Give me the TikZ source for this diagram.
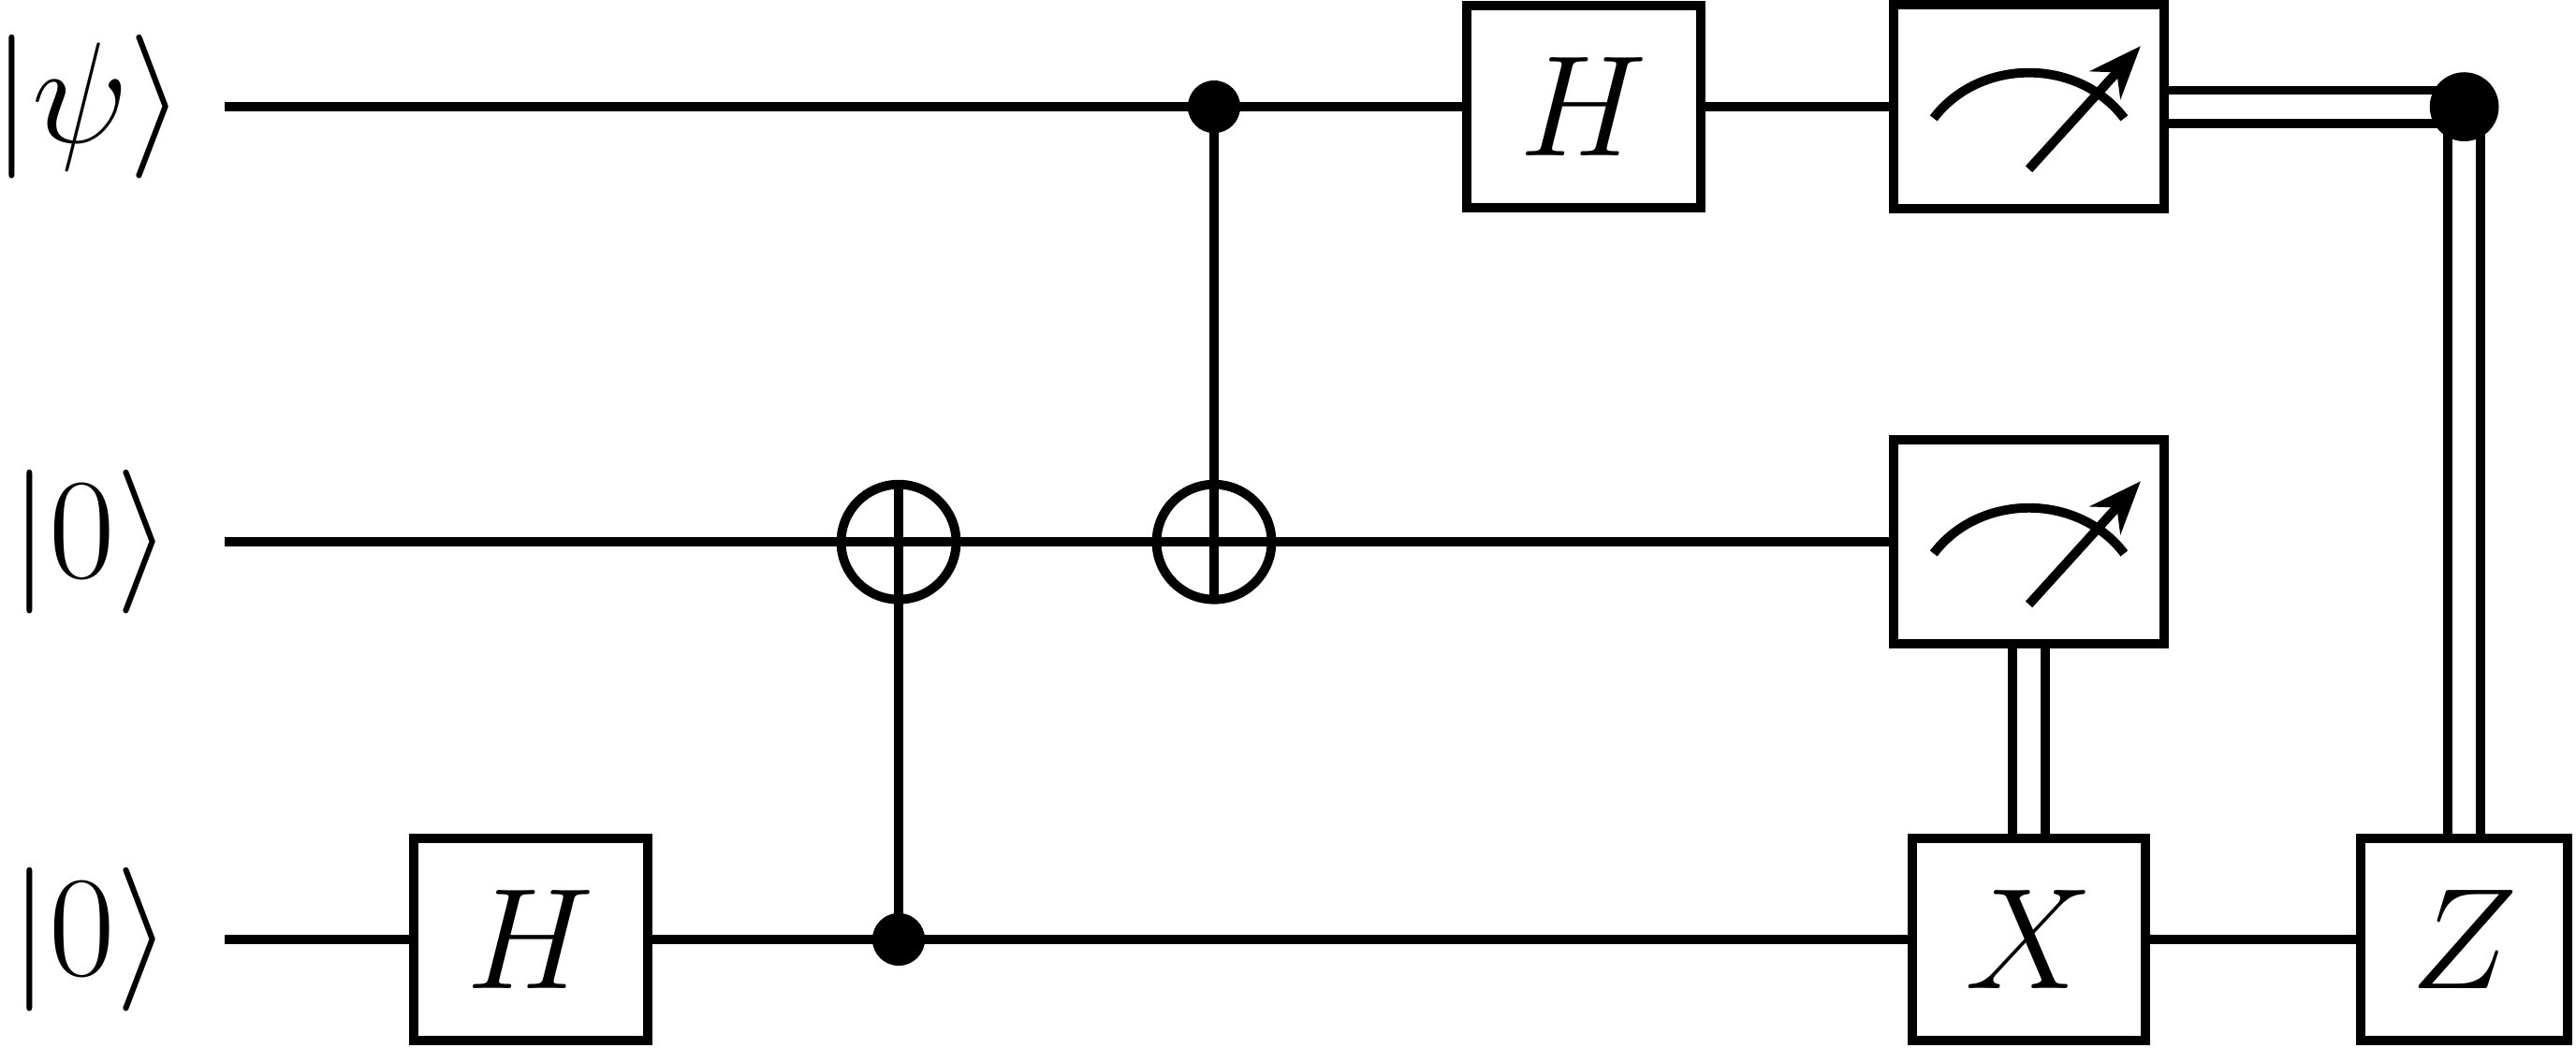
\documentclass[tikz,border=0pt]{standalone}
\usetikzlibrary{arrows.meta}
\begin{document}
\begin{tikzpicture}[x=0.01cm,y=-0.01cm,line width=1.6pt,
  gate/.style={draw,line width=1.6pt,minimum width=1.42cm,minimum height=1.23cm,inner sep=0pt,fill=white,font=\fontsize{24}{28}\selectfont},
  meter/.style={draw,line width=1.6pt,minimum width=1.65cm,minimum height=1.24cm,inner sep=0pt,fill=white},
  ctrl/.style={circle,fill=black,minimum size=0.32cm,inner sep=0pt},
  targ/.style={circle,draw,line width=1.6pt,minimum size=0.7cm,inner sep=0pt},
  lab/.style={font=\fontsize{28}{34}\selectfont},
  cl/.style={double distance=0.2cm-1.6pt}]
\useasboundingbox (0,0) rectangle (1568,638);
\node[lab] (l1) at (54,65) {$|\psi\rangle$};
\node[lab] (l2) at (55,330) {$|0\rangle$};
\node[lab] (l3) at (55,572) {$|0\rangle$};
\coordinate (s1) at (137,65); \coordinate (s2) at (137,330); \coordinate (s3) at (137,572);
\coordinate (t1) at (547,330); \coordinate (c1) at (547,572);
\coordinate (t2) at (739,330); \coordinate (c2) at (739,65);
\coordinate (cc) at (1500,65);
\coordinate (m1) at (1235,65); \coordinate (m2) at (1235,330);
\coordinate (h1) at (964,65); \coordinate (h3) at (323,572);
\coordinate (x) at (1235,572); \coordinate (z) at (1500,572);
% wires
\draw (s1) -- (m1); \draw (s2) -- (m2); \draw (s3) -- (z);
\draw (c2) -- ([shift={(0,35)}]t2); \draw (c1) -- ([shift={(0,-35)}]t1);
\draw ([shift={(0,-35)}]t1) -- ([shift={(0,35)}]t1);
% classical
\draw[cl] (m1) -- (cc);
\draw[cl] (cc) -- (z);
\draw[cl] (m2) -- (x);
% nodes
\node[gate] (H3) at (h3) {$H$};
\node[gate] (H1) at (h1) {$H$};
\node[meter] (M1) at (m1) {};
\node[meter] (M2) at (m2) {};
\node[gate] (X) at (x) {$X$};
\node[gate,minimum width=1.26cm] (Z) at (z) {$Z$};
\node[targ] (T1) at (t1) {};
\node[targ] (T2) at (t2) {};
\node[ctrl] (C1) at (c1) {};
\node[ctrl] (C2) at (c2) {};
\node[ctrl,minimum size=0.42cm] (CC) at (cc) {};
% meter glyphs
\foreach \m in {m1,m2}{
  \draw ([shift={(-58,7)}]\m) .. controls ([shift={(-30,-30)}]\m) and ([shift={(30,-30)}]\m) .. ([shift={(58,7)}]\m);
  \draw[-{Stealth[length=0.32cm,width=0.25cm]}] ([shift={(0,38)}]\m) -- ([shift={(68,-37)}]\m);
}
\end{tikzpicture}
\end{document}
